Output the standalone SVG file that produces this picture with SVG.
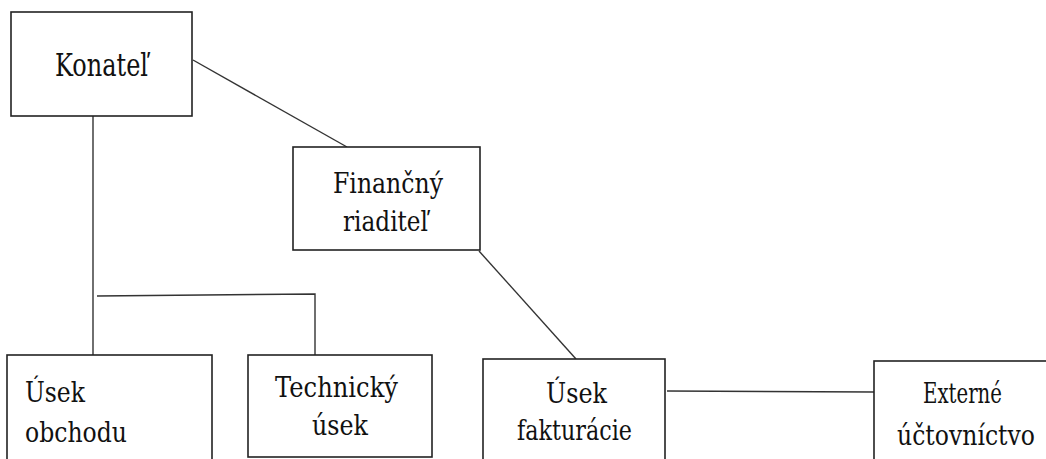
<svg xmlns="http://www.w3.org/2000/svg" width="1046" height="459" viewBox="0 0 1046 459">
<style>
.box{fill:#fff;stroke:#222;stroke-width:1.6}
.lbl{font-family:'DejaVu Serif',serif;font-size:28px;fill:#111}
.con{fill:none;stroke:#333;stroke-width:1.4}
</style>
<rect width="1046" height="459" fill="#fff"/>
<g id="connectors">
<line class="con" x1="193" y1="60" x2="347" y2="147"/>
<line class="con" x1="93" y1="116" x2="93" y2="355"/>
<polyline class="con" points="97,296 315,294 315,355"/>
<line class="con" x1="479" y1="251" x2="576" y2="359"/>
<line class="con" x1="667" y1="391" x2="874" y2="392"/>
</g>
<g id="konatel">
<rect class="box" x="11" y="12" width="181" height="104"/>
<text class="lbl" x="55" y="76" style="font-size:32px" textLength="93" lengthAdjust="spacingAndGlyphs">Konateľ</text>
</g>
<g id="financny">
<rect class="box" x="293" y="147" width="187" height="103"/>
<text class="lbl" x="333" y="193" textLength="110" lengthAdjust="spacingAndGlyphs">Finančný</text>
<text class="lbl" x="343" y="231" textLength="85" lengthAdjust="spacingAndGlyphs">riaditeľ</text>
</g>
<g id="obchod">
<rect class="box" x="7" y="355" width="205" height="115"/>
<text class="lbl" x="25" y="402" textLength="60" lengthAdjust="spacingAndGlyphs">Úsek</text>
<text class="lbl" x="25" y="442" textLength="102" lengthAdjust="spacingAndGlyphs">obchodu</text>
</g>
<g id="technicky">
<rect class="box" x="248" y="355" width="184" height="102"/>
<text class="lbl" x="275" y="397" textLength="123" lengthAdjust="spacingAndGlyphs">Technický</text>
<text class="lbl" x="312" y="435" textLength="56" lengthAdjust="spacingAndGlyphs">úsek</text>
</g>
<g id="fakturacia">
<rect class="box" x="483" y="359" width="182" height="115"/>
<text class="lbl" x="546" y="403" textLength="61" lengthAdjust="spacingAndGlyphs">Úsek</text>
<text class="lbl" x="517" y="440" textLength="115" lengthAdjust="spacingAndGlyphs">fakturácie</text>
</g>
<g id="externe">
<rect class="box" x="874" y="361" width="190" height="115"/>
<text class="lbl" x="923" y="403" textLength="79" lengthAdjust="spacingAndGlyphs">Externé</text>
<text class="lbl" x="897" y="445" textLength="138" lengthAdjust="spacingAndGlyphs">účtovníctvo</text>
</g>
</svg>
